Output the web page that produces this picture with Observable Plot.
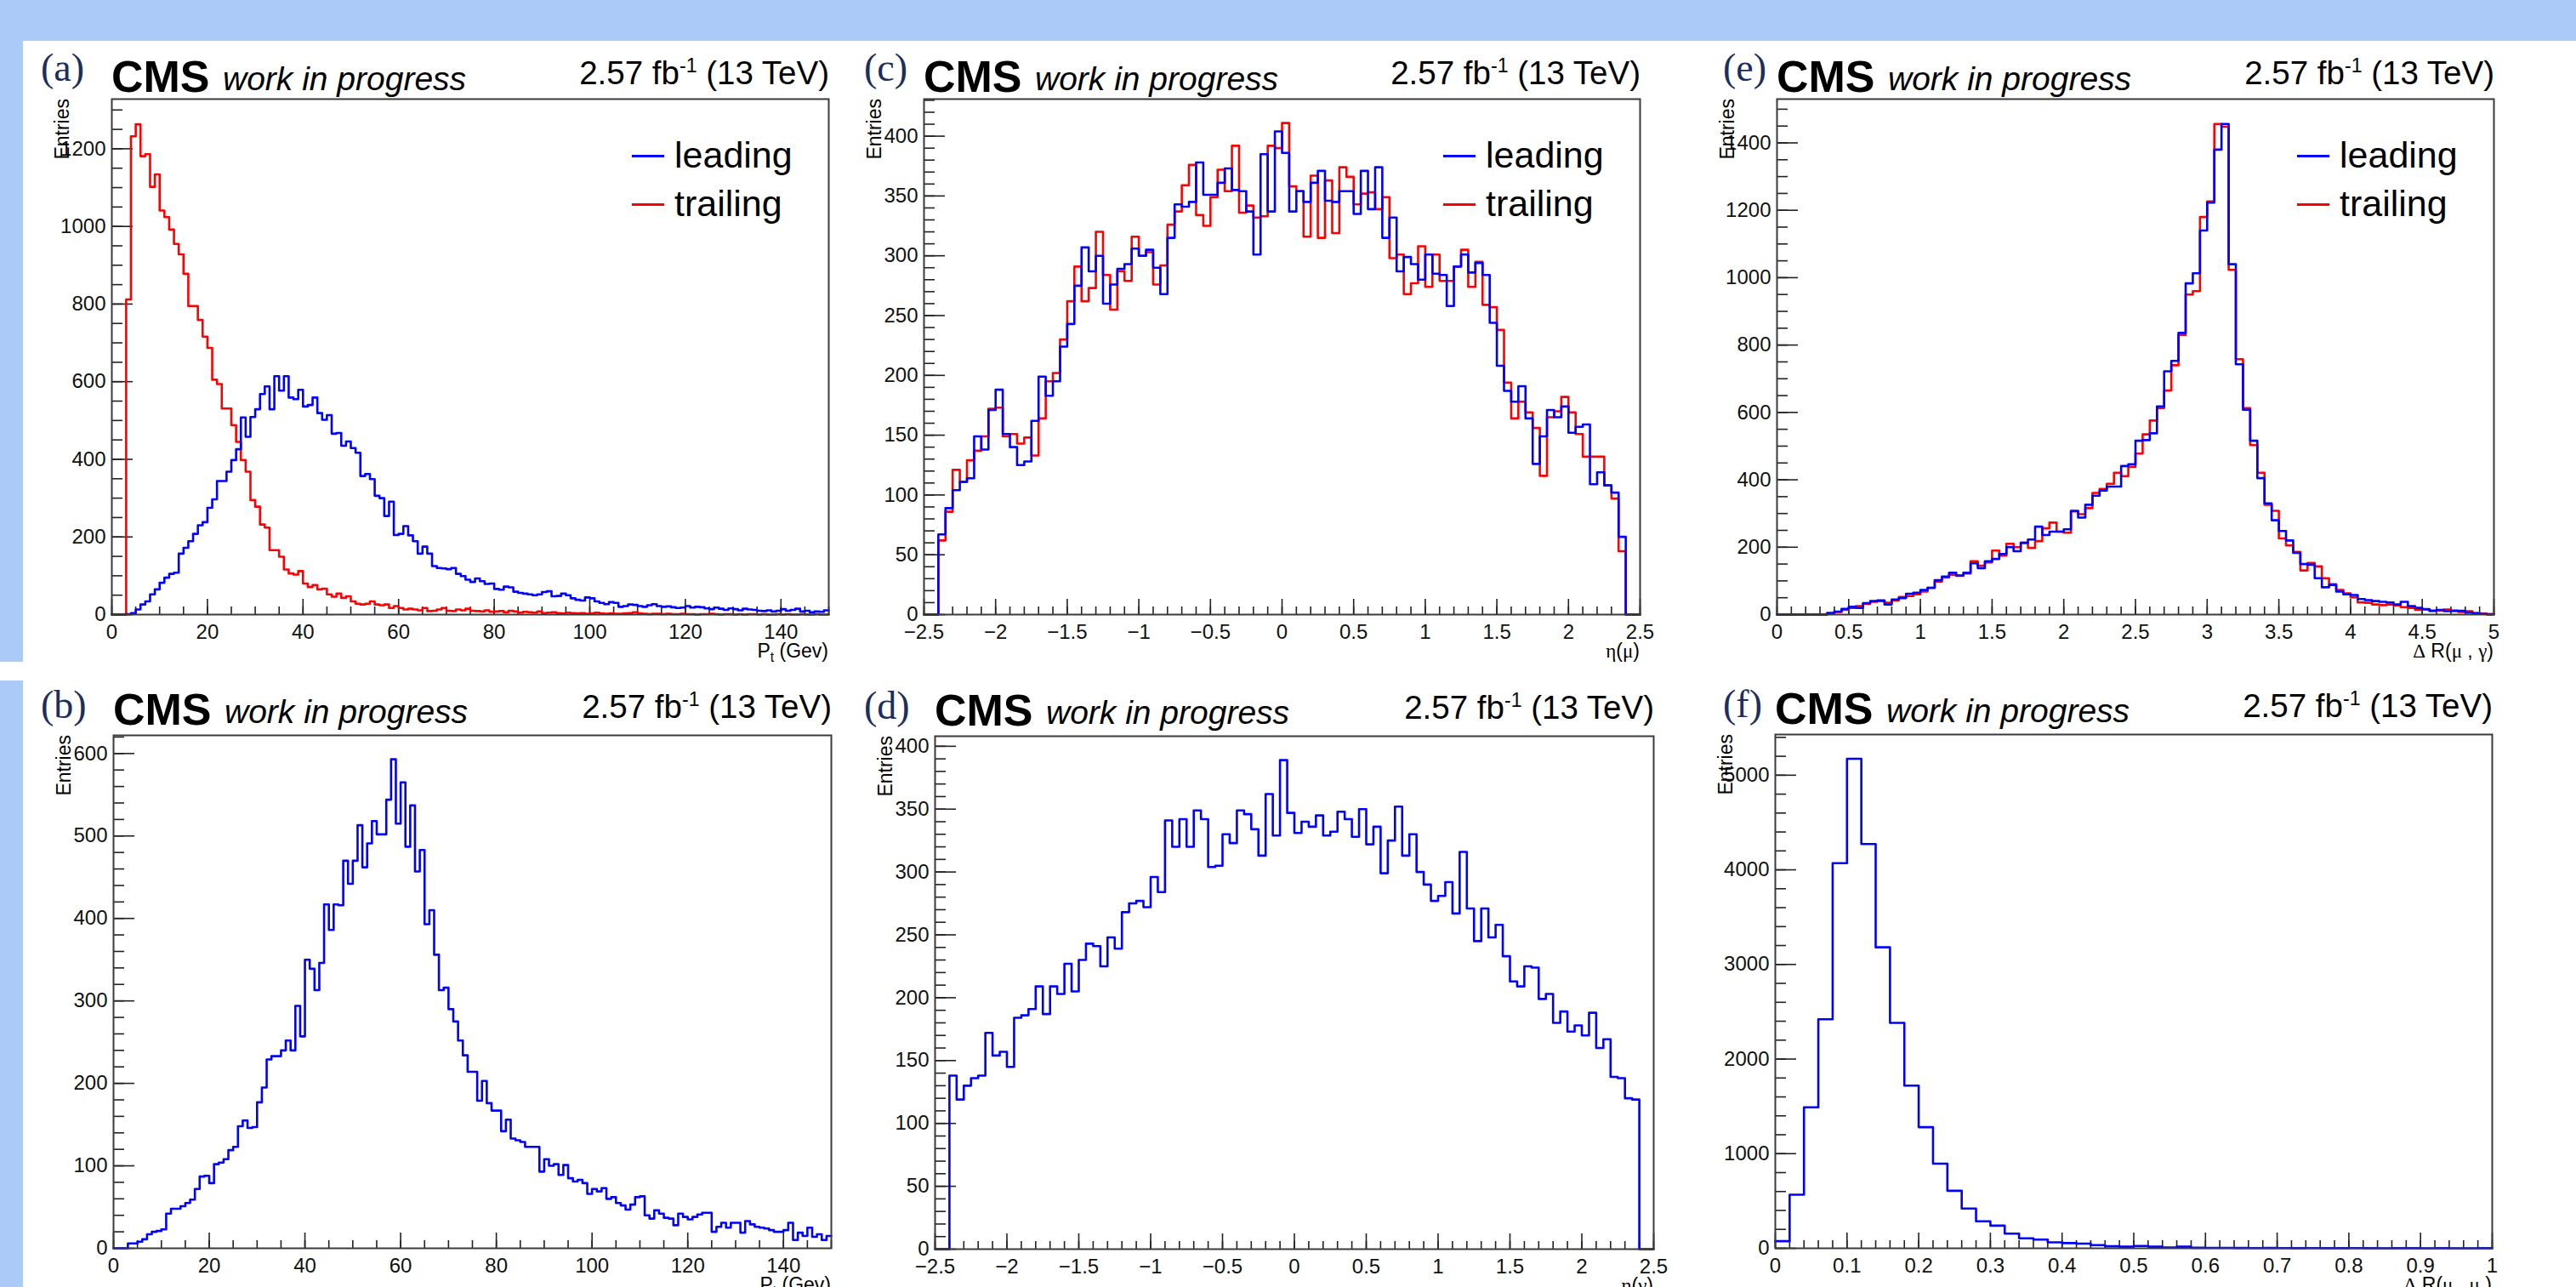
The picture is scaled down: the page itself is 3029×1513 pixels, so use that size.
<!DOCTYPE html>
<html><head><meta charset="utf-8">
<script src="https://cdn.jsdelivr.net/npm/d3@7"></script>
<script src="https://cdn.jsdelivr.net/npm/@observablehq/plot@0.6"></script>
<style>
html,body{margin:0;padding:0;background:#fff;}
#page{position:relative;width:3029px;height:1513px;overflow:hidden;background:#fff;font-family:"Liberation Sans",Arial,Helvetica,sans-serif;color:#000;}
.band{position:absolute;background:#abcaf7;}
.txt{position:absolute;white-space:nowrap;line-height:1;}
.txt sup{font-size:0.6em;line-height:0;vertical-align:0.62em;}
.txt sub{font-size:0.68em;line-height:0;vertical-align:-0.32em;}
.g{font-family:"Liberation Serif","Times New Roman",serif;}
.leg{position:absolute;height:3px;}
</style></head><body><div id="page"></div><script>
const FONT = '"Liberation Sans", Arial, Helvetica, sans-serif';
const SERIF = '"Liberation Serif", "Times New Roman", serif';
const BLUE = "#0000ff", RED = "#ff0000";

// ---------------- data (bin contents) ----------------
// (a) muon pT, 1 GeV bins 0..150
const ptLeading = [
 0,0,0,1,4,13,26,34,52,65,
 82,95,105,108,157,172,189,208,230,238,
 275,297,344,344,368,398,426,508,458,509,
 529,568,588,529,614,577,614,559,555,579,
 536,540,559,519,502,514,466,468,435,446,
 429,417,357,362,349,306,300,254,291,205,
 208,228,204,189,157,175,157,125,120,119,
 117,120,105,99,90,84,93,86,79,80,
 66,64,72,70,59,56,54,52,50,52,
 58,60,47,48,54,50,42,38,36,44,
 42,34,30,27,32,30,20,22,26,25,
 22,20,24,27,22,20,21,19,17,18,
 22,18,20,19,16,14,18,15,12,16,
 14,11,15,13,12,10,9,11,8,10,
 14,10,12,15,8,10,6,8,7,11];
const ptTrailing = [
 0,0,0,812,1232,1263,1181,1186,1102,1134,
 1041,1024,992,955,928,878,795,795,759,716,
 687,605,594,531,531,488,445,398,368,295,
 278,232,224,166,166,149,116,106,103,112,
 80,71,76,65,67,52,46,54,43,47,
 34,28,26,28,34,26,24,26,17,22,
 17,13,15,13,11,17,9,10,13,17,
 10,9,13,11,15,10,9,8,11,7,
 8,9,6,10,8,5,7,6,5,8,
 4,5,6,4,3,5,4,3,4,2,
 3,5,3,2,3,2,2,3,4,6,
 3,2,1,2,2,1,2,1,1,2,
 1,1,0,1,1,2,1,0,1,1,
 0,1,0,1,1,0,1,0,0,1,
 0,1,0,0,1,0,0,1,0,0];
// (b) photon pT, 1 GeV bins 0..150
const ptPhoton = [
 0,0,0,6,6,8,11,17,20,21,
 23,42,48,48,51,55,59,72,87,88,
 79,102,104,108,119,123,148,155,146,147,
 177,195,229,233,233,240,252,240,294,257,
 350,339,313,346,417,386,417,416,470,442,
 470,513,462,491,518,502,502,544,593,515,
 565,487,537,457,483,393,410,356,313,316,
 290,275,252,234,214,214,179,203,176,167,
 167,142,156,133,131,129,123,123,123,93,
 108,100,102,89,101,85,81,83,79,66,
 72,69,73,60,62,55,52,47,53,62,
 63,40,36,46,42,37,36,28,42,38,
 35,38,41,43,43,20,26,31,25,31,
 31,19,33,29,26,25,24,22,20,20,
 22,31,10,19,15,25,14,17,10,15];
// (c) muon eta, 0.05 bins -2.5..2.5
const etaMuLeading = [
 0,0,67,89,104,111,114,149,138,171,
 188,151,140,125,128,162,199,183,195,224,
 243,275,307,287,300,260,276,289,293,306,
 300,305,290,268,315,343,341,345,378,351,
 351,361,373,355,354,337,301,385,337,404,
 386,337,354,345,361,371,346,345,354,354,
 335,371,339,374,315,332,287,299,293,280,
 301,285,284,258,291,301,286,294,284,244,
 208,187,178,191,164,126,149,171,165,174,
 152,157,159,109,119,108,102,65,0,0];
const etaMuTrailing = [
 0,0,62,86,121,111,129,137,149,172,
 173,149,151,143,148,133,164,195,202,230,
 262,291,262,273,320,284,255,287,279,316,
 300,303,276,292,326,337,359,376,334,325,
 349,372,354,392,336,342,332,333,392,390,
 411,358,354,316,367,315,363,319,374,366,
 343,352,353,339,349,298,301,268,277,308,
 274,301,279,279,291,305,274,295,259,257,
 238,194,164,178,169,156,116,165,170,182,
 169,151,132,132,132,108,97,53,0,0];
// (d) photon eta, 0.05 bins -2.5..2.5
const etaGamma = [
 0,0,138,119,130,136,138,172,154,157,
 145,184,186,191,209,187,209,203,227,205,
 230,243,241,225,248,239,268,275,277,272,
 296,284,341,320,342,320,349,342,304,305,
 330,323,349,346,334,313,362,329,389,347,
 331,340,336,345,329,332,348,342,328,350,
 322,336,299,325,352,313,330,300,290,277,
 281,292,267,316,271,245,271,248,258,233,
 213,209,225,224,199,203,180,189,173,178,
 170,188,160,167,137,136,120,119,0,0];
// (e) DeltaR(mu, gamma), 0.05 bins 0..5
const dRMuGammaLeading = [
 0,0,0,0,0,0,0,5,9,17,
 23,20,34,40,42,30,45,49,62,65,
 73,79,102,113,124,116,124,152,138,158,
 165,180,200,188,213,223,261,236,246,246,
 253,308,288,326,353,368,380,380,441,446,
 516,518,538,618,722,753,836,983,1013,1140,
 1223,1380,1456,1040,743,608,516,405,330,280,
 248,220,183,150,148,108,81,88,68,60,
 58,46,43,40,38,36,30,38,25,20,
 16,12,14,10,12,11,6,3,2,1];
const dRMuGammaTrailing = [
 0,0,0,0,0,0,0,3,8,14,
 20,25,32,38,40,35,42,52,55,60,
 68,80,98,110,118,115,122,158,145,155,
 190,175,210,200,213,198,218,256,273,246,
 243,306,298,316,361,373,388,421,411,438,
 478,535,576,613,665,740,830,950,960,1180,
 1226,1456,1448,1023,758,613,503,421,326,308,
 226,205,186,131,153,143,108,90,73,63,
 51,36,35,30,28,30,27,22,20,14,
 15,10,12,15,10,8,10,5,3,1];
// (f) DeltaR(mu, mu), 0.02 bins 0..1
const dRMuMu = [
 75,566,1490,2421,4070,5174,4272,3181,2383,1720,
 1280,894,608,420,285,239,155,105,92,63,
 55,50,34,21,17,25,17,8,17,6,
 4,5,3,2,3,2,1,2,1,1,
 2,1,0,1,1,0,1,0,0,1];

// tick labels
const ptTicks = [0,20,40,60,80,100,120,140];
const etaTicks = [-2.5,-2,-1.5,-1,-0.5,0,0.5,1,1.5,2,2.5];
const dRTicks = [0,0.5,1,1.5,2,2.5,3,3.5,4,4.5,5];
const dRMuMuTicks = [0,0.1,0.2,0.3,0.4,0.5,0.6,0.7,0.8,0.9,1];
const entriesTicksA = [0,200,400,600,800,1000,1200];
const entriesTicksB = [0,100,200,300,400,500,600];
const entriesTicksEta = [0,50,100,150,200,250,300,350,400];
const entriesTicksE = [0,200,400,600,800,1000,1200,1400];
const entriesTicksF = [0,1000,2000,3000,4000,5000];
const seriesNames = ["leading", "trailing"];
const yTitle = "Entries";
const cmsText = "CMS", extraText = "work in progress", lumiHtml = "2.57 fb<sup>-1</sup> (13 TeV)";

// ---------------- layout ----------------
const PAGE_W = 3029, PAGE_H = 1513;
const page = document.getElementById("page");
function band(l, t, w, h) { const d = document.createElement("div"); d.className = "band"; Object.assign(d.style, {left: l + "px", top: t + "px", width: w + "px", height: h + "px"}); page.appendChild(d); }
band(0, 0, PAGE_W, 48);
band(0, 48, 27, 730);
band(0, 800, 27, PAGE_H - 800);

function placeText(html, o) {
  const d = document.createElement("div");
  d.className = "txt";
  d.innerHTML = html;
  const fs = o.fs;
  d.style.fontFamily = o.family || FONT;
  d.style.fontSize = fs + "px";
  d.style.fontWeight = o.weight || "normal";
  d.style.fontStyle = o.style || "normal";
  d.style.color = o.color || "#000";
  d.style.top = (o.base - (o.ratio || 0.8465) * fs) + "px";
  if (o.anchor === "end") d.style.right = (PAGE_W - o.x) + "px"; else d.style.left = o.x + "px";
  page.appendChild(d);
  return d;
}

const rowOffsets = [
  {label: -20, cms: -8, extra: -10, lumi: -16},
  {label: -19, cms: -12, extra: -14, lumi: -19}
];

const panels = [
  {label: "(a)", row: 0, labelDx: -83, frame: {l: 131, t: 116, w: 843, h: 606},
   x: {lo: 0, hi: 150, ticks: ptTicks, minor: 5}, y: {max: 1328, ticks: entriesTicksA, minor: 50},
   series: [{values: ptTrailing, color: RED}, {values: ptLeading, color: BLUE}], legend: true,
   xTitle: 'P<sub>t</sub> (Gev)'},
  {label: "(c)", row: 0, labelDx: -70, frame: {l: 1086, t: 116, w: 842, h: 606},
   x: {lo: -2.5, hi: 2.5, ticks: etaTicks, minor: 0.1}, y: {max: 431, ticks: entriesTicksEta, minor: 10},
   series: [{values: etaMuTrailing, color: RED}, {values: etaMuLeading, color: BLUE}], legend: true,
   xTitle: '<span class="g">η</span>(<span class="g">μ</span>)'},
  {label: "(e)", row: 0, labelDx: -63, frame: {l: 2089, t: 116, w: 843, h: 606},
   x: {lo: 0, hi: 5, ticks: dRTicks, minor: 0.1}, y: {max: 1530, ticks: entriesTicksE, minor: 50},
   series: [{values: dRMuGammaTrailing, color: RED}, {values: dRMuGammaLeading, color: BLUE}], legend: true,
   xTitle: '<span class="g">Δ</span> R(<span class="g">μ</span> , <span class="g">γ</span>)'},
  {label: "(b)", row: 1, labelDx: -85, frame: {l: 133, t: 864, w: 844, h: 603},
   x: {lo: 0, hi: 150, ticks: ptTicks, minor: 5}, y: {max: 622, ticks: entriesTicksB, minor: 20},
   series: [{values: ptPhoton, color: BLUE}], legend: false,
   xTitle: 'P<sub>t</sub> (Gev)'},
  {label: "(d)", row: 1, labelDx: -83, frame: {l: 1099, t: 865, w: 845, h: 603},
   x: {lo: -2.5, hi: 2.5, ticks: etaTicks, minor: 0.1}, y: {max: 408, ticks: entriesTicksEta, minor: 10},
   series: [{values: etaGamma, color: BLUE}], legend: false,
   xTitle: '<span class="g">η</span>(<span class="g">γ</span>)'},
  {label: "(f)", row: 1, labelDx: -61, frame: {l: 2087, t: 863, w: 843, h: 604},
   x: {lo: 0, hi: 1, ticks: dRMuMuTicks, minor: 0.02}, y: {max: 5430, ticks: entriesTicksF, minor: 200},
   series: [{values: dRMuMu, color: BLUE}], legend: false,
   xTitle: '<span class="g">Δ</span> R(<span class="g">μ</span> , <span class="g">μ</span> )'}
];

const ML = 72, MR = 32, MT = 12, MB = 52;
const fmtSigned = d => (d < 0 ? "\u2212" : "") + String(Math.abs(d));
function minorTicks(lo, hi, step) {
  const n = Math.round((hi - lo) / step);
  return d3.range(n + 1).map(i => +(lo + i * step).toFixed(6));
}
function histPoints(values, lo, hi) {
  const w = (hi - lo) / values.length;
  const pts = values.map((v, i) => ({x: lo + i * w, y: v}));
  pts.push({x: hi, y: values[values.length - 1]});
  return pts;
}

for (const p of panels) {
  const f = p.frame;
  const tickStyle = {stroke: "#222", strokeWidth: 1.6};
  const lastMajor = p.y.ticks[p.y.ticks.length - 1];
  const yMinor = minorTicks(0, lastMajor, p.y.minor);
  for (let v = lastMajor + p.y.minor; v < p.y.max; v += p.y.minor) yMinor.push(v);
  const marks = [
    Plot.tickX(minorTicks(p.x.lo, p.x.hi, p.x.minor), {x: d => d, insetTop: f.h - 9, ...tickStyle}),
    Plot.tickX(p.x.ticks, {x: d => d, insetTop: f.h - 18, ...tickStyle}),
    Plot.tickY(yMinor, {y: d => d, insetRight: f.w - 13, ...tickStyle}),
    Plot.tickY(p.y.ticks, {y: d => d, insetRight: f.w - 25, ...tickStyle})
  ];
  for (const s of p.series) {
    marks.push(Plot.line(histPoints(s.values, p.x.lo, p.x.hi), {x: "x", y: "y", curve: "step-after", stroke: s.color, strokeWidth: 2.6}));
  }
  marks.push(Plot.frame({stroke: "#3a3a3a", strokeWidth: 2}));

  const svg = Plot.plot({
    width: f.w + ML + MR, height: f.h + MT + MB,
    marginLeft: ML, marginRight: MR, marginTop: MT, marginBottom: MB,
    style: {background: "transparent", fontFamily: FONT, fontSize: "24px", color: "#111", overflow: "visible"},
    x: {domain: [p.x.lo, p.x.hi], ticks: p.x.ticks, tickSize: 0, tickPadding: 11, tickFormat: fmtSigned, label: null},
    y: {domain: [0, p.y.max], ticks: p.y.ticks, tickSize: 0, tickPadding: 7, tickFormat: d => String(d), label: null},
    marks
  });
  svg.style.position = "absolute";
  svg.style.left = (f.l - ML) + "px";
  svg.style.top = (f.t - MT) + "px";
  page.appendChild(svg);

  const off = rowOffsets[p.row];
  const r = f.l + f.w, b = f.t + f.h;
  placeText(p.label, {x: f.l + p.labelDx, base: f.t + off.label, fs: 46, family: SERIF, color: "#1d2d5c", ratio: 0.8375});
  placeText(cmsText, {x: f.l, base: f.t + off.cms, fs: 52, weight: "bold"});
  placeText(extraText, {x: f.l + 131, base: f.t + off.extra, fs: 39, style: "italic"});
  placeText(lumiHtml, {x: r + 1, base: f.t + off.lumi, fs: 38.5, anchor: "end"});
  placeText(p.xTitle, {x: r, base: b + 51, fs: 23, anchor: "end"});

  // rotated y title
  const e = document.createElement("div");
  e.className = "txt";
  e.textContent = yTitle;
  Object.assign(e.style, {fontFamily: FONT, fontSize: "23px", top: f.t + "px", right: (PAGE_W - (f.l - 69)) + "px",
    transformOrigin: "100% 0", transform: "rotate(-90deg)"});
  page.appendChild(e);

  if (p.legend) {
    const legColors = [BLUE, RED];
    seriesNames.forEach((name, i) => {
      const ln = document.createElement("div");
      ln.className = "leg";
      Object.assign(ln.style, {left: (r - 231) + "px", top: (f.t + 66 + 57 * i) + "px", width: "38px", background: legColors[i]});
      page.appendChild(ln);
      placeText(name, {x: r - 181, base: f.t + 81 + 57 * i, fs: 43});
    });
  }
}
</script></body></html>
